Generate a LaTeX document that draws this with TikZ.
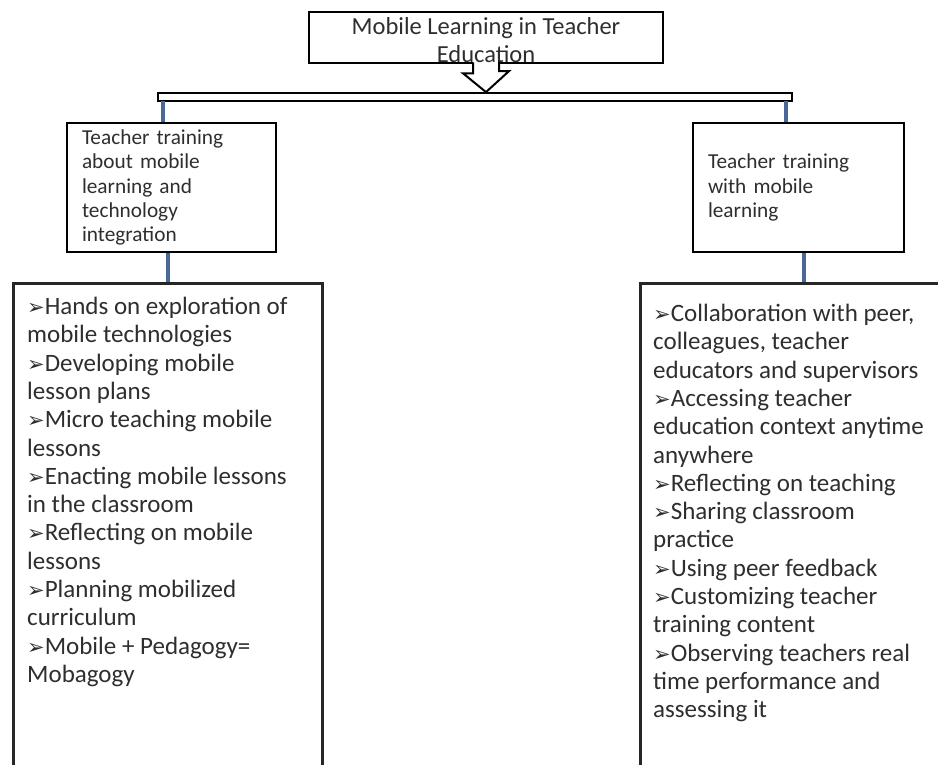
\documentclass[tikz,border=0pt]{standalone}
\usepackage{fontspec}
\setmainfont{Carlito}
\newfontfamily\dingfont{DejaVu Sans}
\usepackage{tikz}
\usetikzlibrary{positioning}
\definecolor{inkgray}{HTML}{2E2E2E}
\definecolor{linkblue}{HTML}{4A6895}
\newcommand{\Pointer}{{\dingfont\fontsize{21}{21}\selectfont ➢}}

\begin{document}
\begin{tikzpicture}[x=1pt,y=1pt,
  titlebox/.style={draw, line width=2.6pt, inner sep=0pt, minimum width=354pt,
    minimum height=51pt},
  titletext/.style={inner sep=0pt, align=center, text=inkgray,
    font=\fontsize{24.5}{28}\selectfont},
  midbox/.style={draw, line width=2.8pt, inner xsep=15pt, inner ysep=0pt,
    minimum height=129pt, align=left, text=inkgray, font=\fontsize{21.3}{24.3}\selectfont},
  bigbox/.style={draw=black!85, line width=3.4pt, inner sep=0pt, minimum height=560pt},
  listtext/.style={inner sep=0pt, align=left, anchor=north west, text=inkgray,
    font=\fontsize{25}{28.3}\selectfont},
  link/.style={linkblue, line width=4pt}]
\useasboundingbox (0,0) rectangle (938,-765);
\clip (0,0) rectangle (938,-765);
% title and bar
\node[titlebox] (title) at (486,-37.5) {};
\node[draw, line width=1.8pt, fill=white, inner sep=0pt, minimum width=634pt,
  minimum height=8pt] (bar) at (475,-97) {};
\draw[line width=2pt, fill=white, line join=miter]
  ([xshift=-13pt,yshift=2pt]title.south) -- ++(0,-11) -- ++(-10,0)
  -- (bar.north -| title.south) -- ++(23,21) -- ++(-10,0) -- ++(0,11);
\node[titletext] (titlename) at ([yshift=-2.5pt]title.center)
  {Mobile Learning in Teacher\\Education};
% second level
\node[midbox, text width=179pt] (lmid) at (171.5,-187.5)
  {Teacher training\\about mobile\\learning and\\technology\\integration};
\node[midbox, text width=181pt] (rmid) at (798.5,-187.5)
  {Teacher training\\with mobile\\learning};
\coordinate (ljoin) at (163,-101);
\coordinate (rjoin) at (786,-101);
\draw[link] (ljoin) -- (ljoin |- lmid.north);
\draw[link] (rjoin) -- (rjoin |- rmid.north);
% lists
\node[bigbox, minimum width=309pt, anchor=north west] (lbig) at (12,-282) {};
\node[bigbox, minimum width=326pt, anchor=north west] (rbig) at (639,-282) {};
\draw[link] (lmid.south -| lbig.north) -- (lbig.north);
\draw[link] (rmid.south -| rbig.north) -- (rbig.north);
\node[listtext] (ltext) at ([xshift=15pt,yshift=-15pt]lbig.north west)
  {\Pointer Hands on exploration of\\mobile technologies\\
   \Pointer Developing mobile\\lesson plans\\
   \Pointer Micro teaching mobile\\lessons\\
   \Pointer Enacting mobile lessons\\in the classroom\\
   \Pointer Reflecting on mobile\\lessons\\
   \Pointer Planning mobilized\\curriculum\\
   \Pointer Mobile + Pedagogy=\\Mobagogy};
\node[listtext] (rtext) at ([xshift=14pt,yshift=-22pt]rbig.north west)
  {\Pointer Collaboration with peer,\\colleagues, teacher\\educators and supervisors\\
   \Pointer Accessing teacher\\education context anytime\\anywhere\\
   \Pointer Reflecting on teaching\\
   \Pointer Sharing classroom\\practice\\
   \Pointer Using peer feedback\\
   \Pointer Customizing teacher\\training content\\
   \Pointer Observing teachers real\\time performance and\\assessing it};
\end{tikzpicture}
\end{document}
